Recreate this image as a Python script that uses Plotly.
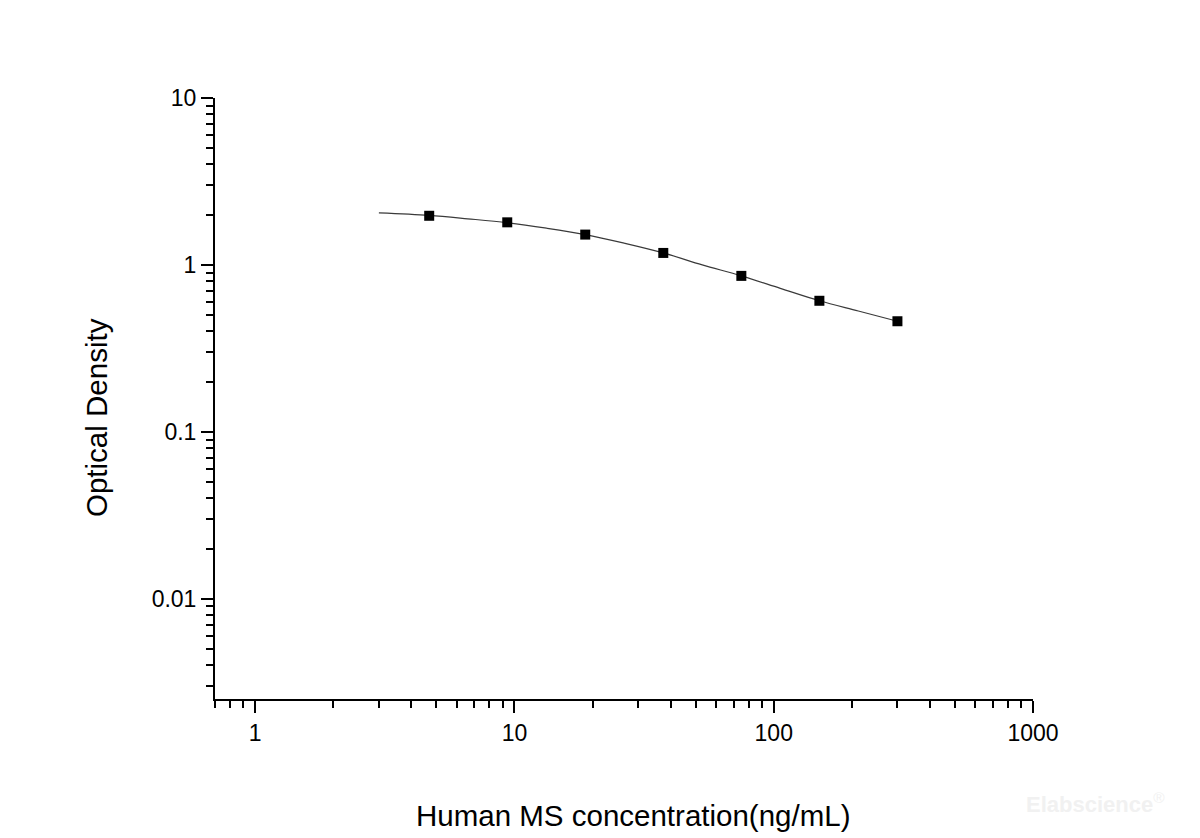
import plotly.graph_objects as go

# standard points (ng/mL vs OD)
conc = [4.69, 9.38, 18.75, 37.5, 75, 150, 300]
od = [1.97, 1.80, 1.52, 1.18, 0.86, 0.61, 0.46]

# fitted curve
fit_x = [3.0, 4.69, 6.6, 9.38, 13.3, 18.75, 26.5, 37.5, 53, 75, 106, 150, 212, 300]
fit_y = [2.05, 1.98, 1.89, 1.79, 1.66, 1.52, 1.35, 1.18, 1.00, 0.86, 0.724, 0.61, 0.530, 0.46]

x_ticks = [1, 10, 100, 1000]
x_labels = ['1', '10', '100', '1000']
y_ticks = [0.01, 0.1, 1, 10]
y_labels = ['0.01', '0.1', '1', '10']

x_title = 'Human MS concentration(ng/mL)'
y_title = 'Optical Density'

fig = go.Figure()

fig.add_trace(go.Scatter(
    x=fit_x, y=fit_y,
    mode='lines',
    line=dict(color='#3a3a3a', width=1.2, shape='spline'),
    showlegend=False,
    hoverinfo='skip'))

fig.add_trace(go.Scatter(
    x=conc, y=od,
    mode='markers',
    marker=dict(symbol='square', size=10, color='black'),
    showlegend=False))

axis_font = dict(family='Liberation Sans, Arial, sans-serif', size=23, color='black')
title_font = dict(family='Liberation Sans, Arial, sans-serif', size=29.5, color='black')

fig.update_xaxes(
    type='log', range=[-0.155, 3],
    tickvals=x_ticks, ticktext=x_labels,
    ticks='outside', ticklen=12, tickwidth=2, tickcolor='black',
    minor=dict(ticks='outside', ticklen=7, tickwidth=2, tickcolor='black', dtick='D1', showgrid=False),
    showline=True, linecolor='black', linewidth=2,
    showgrid=False, zeroline=False,
    tickfont=axis_font)

fig.update_yaxes(
    type='log', range=[-2.6, 1],
    tickvals=y_ticks, ticktext=y_labels,
    ticks='outside', ticklen=12, tickwidth=2, tickcolor='black',
    minor=dict(ticks='outside', ticklen=7, tickwidth=2, tickcolor='black', dtick='D1', showgrid=False),
    showline=True, linecolor='black', linewidth=2,
    showgrid=False, zeroline=False,
    tickfont=axis_font)

# axis titles placed as in the original (page px -> paper coords)
px = lambda x: (x - 207) / 818
py = lambda y: (689 - y) / 601

fig.add_annotation(x=px(625), y=py(805), xref='paper', yref='paper',
                   xanchor='center', yanchor='middle', text=x_title,
                   showarrow=False, font=title_font)
fig.add_annotation(x=px(88), y=py(408), xref='paper', yref='paper',
                   xanchor='center', yanchor='middle', text=y_title, textangle=-90,
                   showarrow=False, font=title_font)

# faint watermark
fig.add_annotation(
    x=px(1087), y=py(793), xref='paper', yref='paper',
    xanchor='center', yanchor='middle', text='<b>Elabscience</b><sup>®</sup>',
    showarrow=False, font=dict(family='Liberation Sans, Arial', size=22, color='#f1f1f1'))

fig.update_layout(
    width=1200, height=838,
    margin=dict(l=207, r=175, t=90, b=147, autoexpand=False),
    plot_bgcolor='white', paper_bgcolor='white')

fig.write_html('out.html')
